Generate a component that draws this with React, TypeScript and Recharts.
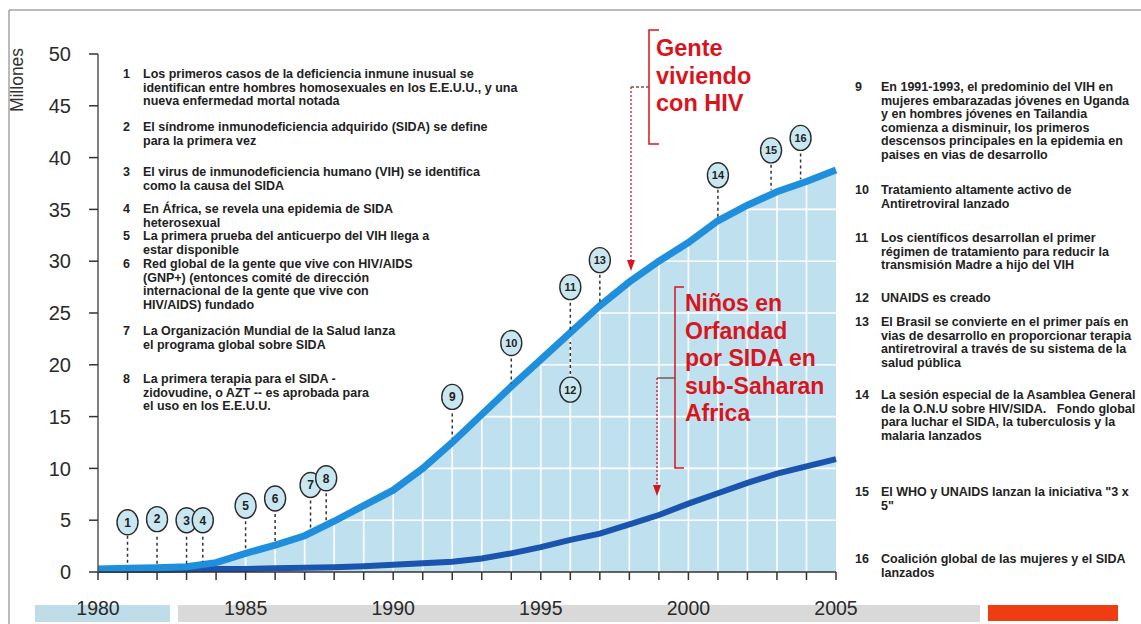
import React from 'react';
import {
  ComposedChart, Area, Line, XAxis, YAxis, ReferenceLine, ReferenceDot,
} from 'recharts';

// ---------- DATA ----------
const years = [1980, 1981, 1982, 1983, 1984, 1985, 1986, 1987, 1988, 1989, 1990, 1991, 1992,
  1993, 1994, 1995, 1996, 1997, 1998, 1999, 2000, 2001, 2002, 2003, 2004, 2005];
const peopleLivingWithHIV = [0.3, 0.35, 0.4, 0.5, 0.9, 1.8, 2.6, 3.5, 4.9, 6.4, 7.9, 10.0, 12.5,
  15.2, 17.9, 20.5, 23.1, 25.7, 28.0, 30.0, 31.8, 33.9, 35.4, 36.7, 37.7, 38.8];
const orphansSubSaharan = [0.2, 0.2, 0.2, 0.25, 0.3, 0.3, 0.35, 0.4, 0.45, 0.55, 0.7, 0.85, 1.0,
  1.3, 1.8, 2.4, 3.1, 3.7, 4.6, 5.5, 6.6, 7.6, 8.6, 9.5, 10.2, 10.9];
const yTicks = [0, 5, 10, 15, 20, 25, 30, 35, 40, 45, 50];
const xLabelYears = [1980, 1985, 1990, 1995, 2000, 2005];

// milestone markers: number, year, marker value, stem start value, stem end value
const milestoneNumbers = [1, 2, 3, 4, 5, 6, 7, 8, 9, 10, 11, 12, 13, 14, 15, 16];
const milestoneYears = [1981, 1982, 1983, 1983.55, 1985, 1986, 1987.2, 1987.73, 1992, 1994, 1996, 1996, 1997, 2001, 2002.8, 2003.8];
const milestoneValues = [4.8, 5.1, 5.0, 5.0, 6.4, 7.1, 8.4, 9.05, 16.9, 22.1, 27.5, 17.6, 30.1, 38.3, 40.7, 41.9];
const stemFrom = [3.5, 3.4, 3.4, 3.4, 4.9, 5.6, 6.9, 7.6, 15.3, 20.6, 26.0, 19.1, 28.7, 36.9, 39.3, 40.4];
const stemTo = [0.7, 0.7, 0.8, 1.0, 2.2, 2.9, 4.0, 4.8, 12.9, 18.2, 23.3, 22.2, 26.0, 34.2, 36.9, 37.9];

const leftNotes = [
  { n: '1', lines: ['Los primeros casos de la deficiencia inmune inusual se', 'identifican entre hombres homosexuales en los E.E.U.U., y una', 'nueva enfermedad mortal notada'] },
  { n: '2', lines: ['El síndrome inmunodeficiencia adquirido (SIDA) se define', 'para la primera vez'] },
  { n: '3', lines: ['El virus de inmunodeficiencia humano (VIH) se identifica', 'como la causa del SIDA'] },
  { n: '4', lines: ['En África, se revela una epidemia de SIDA', 'heterosexual'] },
  { n: '5', lines: ['La primera prueba del anticuerpo del VIH llega a', 'estar disponible'] },
  { n: '6', lines: ['Red global de la gente que vive con HIV/AIDS', '(GNP+) (entonces comité de dirección', 'internacional de la gente que vive con', 'HIV/AIDS) fundado'] },
  { n: '7', lines: ['La Organización Mundial de la Salud lanza', 'el programa global sobre SIDA'] },
  { n: '8', lines: ['La primera terapia para el SIDA -', 'zidovudine, o AZT -- es aprobada para', 'el uso en los E.E.U.U.'] },
];
const rightNotes = [
  { n: '9', lines: ['En 1991-1993, el predominio del VIH en', 'mujeres embarazadas jóvenes en Uganda', 'y en hombres jóvenes en Tailandia', 'comienza a disminuir, los primeros', 'descensos principales en la epidemia en', 'paises en vias de desarrollo'] },
  { n: '10', lines: ['Tratamiento altamente activo de', 'Antiretroviral lanzado'] },
  { n: '11', lines: ['Los científicos desarrollan el primer', 'régimen de tratamiento para reducir la', 'transmisión Madre a hijo del VIH'] },
  { n: '12', lines: ['UNAIDS es creado'] },
  { n: '13', lines: ['El Brasil se convierte en el primer país en', 'vias de desarrollo en proporcionar terapia', 'antiretroviral a través de su sistema de la', 'salud pública'] },
  { n: '14', lines: ['La sesión especial de la Asamblea General', 'de la O.N.U sobre HIV/SIDA.   Fondo global', 'para luchar el SIDA, la tuberculosis y la', 'malaria lanzados'] },
  { n: '15', lines: ['El WHO y UNAIDS lanzan la iniciativa "3 x', '5"'] },
  { n: '16', lines: ['Coalición global de las mujeres y el SIDA', 'lanzados'] },
];
const hivLabel = ['Gente', 'viviendo', 'con HIV'];
const orphanLabel = ['Niños en', 'Orfandad', 'por SIDA en', 'sub-Saharan', 'Africa'];
const yAxisTitle = 'Millones';

// ---------- LAYOUT ----------
const leftNoteTops = [68, 121, 166, 203, 230, 258, 325, 373];
const rightNoteTops = [81, 184, 232, 292, 316, 389, 486, 553];

const data = years.map((y, i) => ({ year: y, hiv: peopleLivingWithHIV[i], orphans: orphansSubSaharan[i] }));
const gridYears = years.slice(1, -1);
const gridValues = yTicks.slice(1, -1);

const FONT = '"Liberation Sans", Arial, sans-serif';
const RED = '#d8151c';

const XTick = (props: any) => {
  const { x, y, payload } = props;
  if (!xLabelYears.includes(payload.value)) return <g />;
  return (
    <text x={x} y={y} dy="0.71em" textAnchor="middle" fontFamily={FONT} fontSize={19.5} fill="#2a2a2a">
      {payload.value}
    </text>
  );
};

const makeBubble = (n: number) => (p: any) => (
  <g>
    <ellipse cx={p.cx} cy={p.cy} rx={10.5} ry={12.5} fill="#c9e7f0" stroke="#2a2a2a" strokeWidth={1.4} />
    <text x={p.cx} y={p.cy} dy="0.36em" textAnchor="middle" fontFamily={FONT} fontWeight="bold" fontSize={n > 9 ? 11 : 12} fill="#222">
      {n}
    </text>
  </g>
);

const Note = ({ n, lines, top, numLeft, textLeft }: any) => (
  <div style={{ position: 'absolute', top, left: numLeft, fontFamily: FONT, fontWeight: 'bold', fontSize: 12.5, lineHeight: '13.6px', color: '#222' }}>
    <span style={{ position: 'absolute', left: 0, top: 0 }}>{n}</span>
    <div style={{ position: 'absolute', left: textLeft - numLeft, top: 0, whiteSpace: 'pre' }}>
      {lines.map((l: string, i: number) => <div key={i}>{l}</div>)}
    </div>
  </div>
);

export default function App() {
  return (
    <div style={{ position: 'absolute', left: 0, top: 0, width: 1141, height: 624, background: '#fff', overflow: 'hidden' }}>
      {/* bottom bars */}
      <div style={{ position: 'absolute', left: 35, top: 605, width: 135, height: 17, background: '#bfdde9' }} />
      <div style={{ position: 'absolute', left: 178, top: 605, width: 802, height: 17, background: '#d9d9d9' }} />
      <div style={{ position: 'absolute', left: 988, top: 605, width: 130, height: 16, background: '#f03c12' }} />

      <div style={{ position: 'absolute', left: 0, top: 0 }}>
        <ComposedChart width={1141} height={624} data={data} margin={{ top: 54, right: 305, bottom: 0, left: 0 }}>
          <XAxis
            dataKey="year" type="number" domain={[1980, 2005]} ticks={years} interval={0}
            height={52} tickSize={8} tickMargin={21} tick={<XTick />}
            stroke="#333" axisLine={{ stroke: '#333', strokeWidth: 1.5 }} tickLine={{ stroke: '#333', strokeWidth: 1.5 }}
          />
          <YAxis
            type="number" domain={[0, 50]} ticks={yTicks} width={98} tickSize={9} tickMargin={18}
            tick={{ fontFamily: FONT, fontSize: 20, fill: '#2a2a2a' }}
            axisLine={{ stroke: '#555', strokeWidth: 1.5 }} tickLine={{ stroke: '#333', strokeWidth: 1.5 }}
          />
          <Area dataKey="hiv" type="linear" stroke="none" fill="#bfe1ef" fillOpacity={1} isAnimationActive={false} zIndex={100} />
          {gridYears.map((y) => (
            <ReferenceLine key={'gx' + y} x={y} stroke="#ffffff" strokeWidth={1.6} zIndex={150} />
          ))}
          {gridValues.map((v) => (
            <ReferenceLine key={'gy' + v} y={v} stroke="#ffffff" strokeWidth={1.6} zIndex={150} />
          ))}
          <Line dataKey="orphans" type="linear" stroke="#1b54ae" strokeWidth={6} dot={false} isAnimationActive={false} zIndex={400} />
          <Line dataKey="hiv" type="linear" stroke="#1f8edc" strokeWidth={7} dot={false} isAnimationActive={false} zIndex={410} />
          {milestoneNumbers.map((n, i) => (
            <ReferenceLine
              key={'st' + n}
              segment={[{ x: milestoneYears[i], y: stemFrom[i] }, { x: milestoneYears[i], y: stemTo[i] }]}
              stroke="#333" strokeWidth={1.5} strokeDasharray="3 3" zIndex={500}
            />
          ))}
          {milestoneNumbers.map((n, i) => (
            <ReferenceDot
              key={'md' + n} x={milestoneYears[i]} y={milestoneValues[i]} r={11}
              shape={makeBubble(n)} zIndex={600}
            />
          ))}
        </ComposedChart>
      </div>

      {/* annotation overlay */}
      <svg width={1141} height={624} style={{ position: 'absolute', left: 0, top: 0, pointerEvents: 'none' }}>
        <line x1={9} y1={10} x2={1141} y2={10} stroke="#777" strokeWidth={1} />
        <line x1={9} y1={10} x2={9} y2={624} stroke="#777" strokeWidth={1} />
        <text transform="translate(23,80) rotate(-90)" textAnchor="middle" fontFamily={FONT} fontSize={17.5} fill="#333">{yAxisTitle}</text>

        {/* Gente viviendo con HIV */}
        <path d="M659,30 H649 V144 H659" fill="none" stroke={RED} strokeWidth={1.5} />
        <line x1={649} y1={87} x2={631} y2={87} stroke="#8a4a4a" strokeWidth={1.3} strokeDasharray="3 2" />
        <line x1={631} y1={87} x2={631} y2={262} stroke={RED} strokeWidth={1.3} strokeDasharray="2 2" />
        <polygon points="627,260 635,260 631,271" fill={RED} />
        {hivLabel.map((t, i) => (
          <text key={t} x={656} y={48 + i * 27.5} dy="0.36em" fontFamily={FONT} fontWeight="bold" fontSize={23.5} fill={RED}>{t}</text>
        ))}

        {/* Niños en orfandad */}
        <path d="M684,287 H675 V468 H684" fill="none" stroke={RED} strokeWidth={1.5} />
        <line x1={675} y1={378} x2={657} y2={378} stroke="#6a4a3a" strokeWidth={1.3} />
        <line x1={657} y1={378} x2={657} y2={487} stroke={RED} strokeWidth={1.3} strokeDasharray="2 2" />
        <polygon points="653,485 661,485 657,496" fill={RED} />
        {orphanLabel.map((t, i) => (
          <text key={t} x={685} y={303 + i * 27.5} dy="0.36em" fontFamily={FONT} fontWeight="bold" fontSize={23} fill={RED}>{t}</text>
        ))}
      </svg>

      {leftNotes.map((note, i) => (
        <Note key={note.n} n={note.n} lines={note.lines} top={leftNoteTops[i]} numLeft={123} textLeft={143} />
      ))}
      {rightNotes.map((note, i) => (
        <Note key={note.n} n={note.n} lines={note.lines} top={rightNoteTops[i]} numLeft={855} textLeft={881} />
      ))}
    </div>
  );
}
